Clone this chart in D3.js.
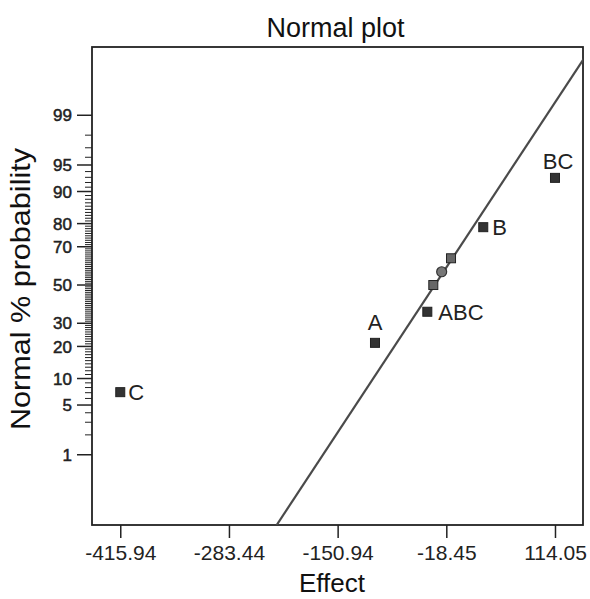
<!DOCTYPE html>
<html>
<head>
<meta charset="utf-8">
<script src="https://cdnjs.cloudflare.com/ajax/libs/d3/7.8.5/d3.min.js"></script>
<style>
  body { margin: 0; background: #fff; }
  svg { font-family: "Liberation Sans", Arial, sans-serif; }
</style>
</head>
<body>
<div class="chart"></div>
<script>
// effects
const effectNames = ["C", "A", "ABC", "", "", "", "B", "BC"];
const effectValues = [-415.94, -105.4, -41.6, -34.3, -24.1, -12.7, 26.6, 114.05];
const effectProbs = [7.1, 21.4, 35.7, 50, 57.2, 64.3, 78.6, 92.9];
const effectShapes = ["square", "square", "square", "square", "circle", "square", "square", "square"];
const effectOnLine = [false, false, false, true, true, true, false, false];

const xTickValues = [-415.94, -283.44, -150.94, -18.45, 114.05];
const yTickValues = [1, 5, 10, 20, 30, 50, 70, 80, 90, 95, 99];
const yMinorValues = d3.range(2, 99).filter(v => !yTickValues.includes(v));

// fitted normal line: effect = lineCenter + lineSpread * z
const lineCenter = -32.5;
const lineSpread = 58.6;

// inverse standard normal cdf (Acklam)
function probit(p) {
  const a = [-39.69683028665376, 220.9460984245205, -275.9285104469687, 138.3577518672690, -30.66479806614716, 2.506628277459239];
  const b = [-54.47609879822406, 161.5858368580409, -155.6989798598866, 66.80131188771972, -13.28068155288572];
  const c = [-0.007784894002430293, -0.3223964580411365, -2.400758277161838, -2.549732539343734, 4.374664141464968, 2.938163982698783];
  const d = [0.007784695709041462, 0.3224671290700398, 2.445134137142996, 3.754408661907416];
  const pl = 0.02425;
  let q, r;
  if (p < pl) {
    q = Math.sqrt(-2 * Math.log(p));
    return (((((c[0]*q+c[1])*q+c[2])*q+c[3])*q+c[4])*q+c[5]) / ((((d[0]*q+d[1])*q+d[2])*q+d[3])*q+1);
  } else if (p <= 1 - pl) {
    q = p - 0.5; r = q * q;
    return (((((a[0]*r+a[1])*r+a[2])*r+a[3])*r+a[4])*r+a[5])*q / (((((b[0]*r+b[1])*r+b[2])*r+b[3])*r+b[4])*r+1);
  } else {
    q = Math.sqrt(-2 * Math.log(1 - p));
    return -(((((c[0]*q+c[1])*q+c[2])*q+c[3])*q+c[4])*q+c[5]) / ((((d[0]*q+d[1])*q+d[2])*q+d[3])*q+1);
  }
}

const width = 590;
const height = 599;
const box = {left: 92, right: 583, top: 47, bottom: 525};

const svg = d3.select('.chart')
    .append('svg')
    .attr('width', width)
    .attr('height', height);

const x = d3.scaleLinear()
    .domain([-450.4, 148.2])
    .range([box.left, box.right]);

const y = d3.scaleLinear()
    .domain([-3.289, 3.262])
    .range([box.bottom, box.top]);

const yp = p => y(probit(p / 100));

svg.append('defs').append('clipPath')
    .attr('id', 'plot-clip')
    .append('rect')
    .attr('x', box.left)
    .attr('y', box.top)
    .attr('width', box.right - box.left)
    .attr('height', box.bottom - box.top);

// x axis
const xAxis = svg.append('g')
    .attr('transform', `translate(0,${box.bottom})`)
    .call(d3.axisBottom(x).tickValues(xTickValues).tickFormat(d => d.toFixed(2)).tickSize(13).tickPadding(7));
xAxis.select('.domain').remove();
xAxis.selectAll('line').attr('stroke', '#222').attr('stroke-width', 1.5);
xAxis.selectAll('text').attr('font-size', '21px').attr('fill', '#222')
    .attr('font-family', '"Liberation Sans", Arial, sans-serif');

// y axis (normal probability)
const yAxisG = svg.append('g').attr('transform', `translate(${box.left},0)`);
yAxisG.selectAll('.minor')
    .data(yMinorValues)
    .enter().append('line')
    .attr('x1', -7).attr('x2', 0)
    .attr('y1', d => yp(d)).attr('y2', d => yp(d))
    .attr('stroke', '#222').attr('stroke-width', 1);
yAxisG.selectAll('.major')
    .data(yTickValues)
    .enter().append('line')
    .attr('x1', -15).attr('x2', 0)
    .attr('y1', d => yp(d)).attr('y2', d => yp(d))
    .attr('stroke', '#222').attr('stroke-width', 1.5);
yAxisG.selectAll('.ylabel')
    .data(yTickValues)
    .enter().append('text')
    .attr('x', -20)
    .attr('y', d => yp(d))
    .attr('dy', '0.36em')
    .attr('text-anchor', 'end')
    .attr('font-size', '17px')
    .attr('fill', '#222')
    .attr('stroke', '#222')
    .attr('stroke-width', 0.5)
    .text(d => d);

// frame
svg.append('rect')
    .attr('x', box.left).attr('y', box.top)
    .attr('width', box.right - box.left).attr('height', box.bottom - box.top)
    .attr('fill', 'none').attr('stroke', '#222').attr('stroke-width', 1.8);

// fitted line
const zEnds = y.domain();
svg.append('line')
    .attr('clip-path', 'url(#plot-clip)')
    .attr('x1', x(lineCenter + lineSpread * zEnds[0])).attr('y1', y(zEnds[0]))
    .attr('x2', x(lineCenter + lineSpread * zEnds[1])).attr('y2', y(zEnds[1]))
    .attr('stroke', '#4a4a4a').attr('stroke-width', 2.2);

// points
const points = effectValues.map((v, i) => ({
  name: effectNames[i], value: v, prob: effectProbs[i],
  shape: effectShapes[i], onLine: effectOnLine[i]
}));

const marks = svg.append('g')
    .selectAll('.pt')
    .data(points)
    .enter().append('g')
    .attr('transform', d => `translate(${x(d.value)},${yp(d.prob)})`);

marks.each(function(d) {
  const g = d3.select(this);
  if (d.shape === 'circle') {
    g.append('circle').attr('r', 5)
        .attr('fill', '#777').attr('stroke', '#333').attr('stroke-width', 1.2);
  } else {
    g.append('rect').attr('x', -4.5).attr('y', -4.5).attr('width', 9).attr('height', 9)
        .attr('fill', d.onLine ? '#666' : '#333').attr('stroke', '#222').attr('stroke-width', 1);
  }
});

// point labels
const labelPos = {
  C: {dx: 8, dy: 8, anchor: 'start'},
  A: {dx: 0, dy: -13, anchor: 'middle'},
  ABC: {dx: 11, dy: 8, anchor: 'start'},
  B: {dx: 9, dy: 8, anchor: 'start'},
  BC: {dx: 3, dy: -9, anchor: 'middle'}
};
marks.filter(d => d.name !== '')
    .append('text')
    .attr('x', d => labelPos[d.name].dx)
    .attr('y', d => labelPos[d.name].dy)
    .attr('text-anchor', d => labelPos[d.name].anchor)
    .attr('font-size', '22px')
    .attr('fill', '#222')
    .text(d => d.name);

// titles
svg.append('text')
    .attr('x', (box.left + box.right) / 2 - 2)
    .attr('y', 37)
    .attr('text-anchor', 'middle')
    .attr('font-size', '27px')
    .attr('fill', '#111')
    .text('Normal plot');

svg.append('text')
    .attr('x', 332)
    .attr('y', 592)
    .attr('text-anchor', 'middle')
    .attr('font-size', '26px')
    .attr('fill', '#111')
    .text('Effect');

svg.append('text')
    .attr('transform', `translate(30,289) rotate(-90)`)
    .attr('text-anchor', 'middle')
    .attr('font-size', '28px')
    .attr('textLength', 282)
    .attr('lengthAdjust', 'spacingAndGlyphs')
    .attr('fill', '#111')
    .text('Normal % probability');
</script>
</body>
</html>
